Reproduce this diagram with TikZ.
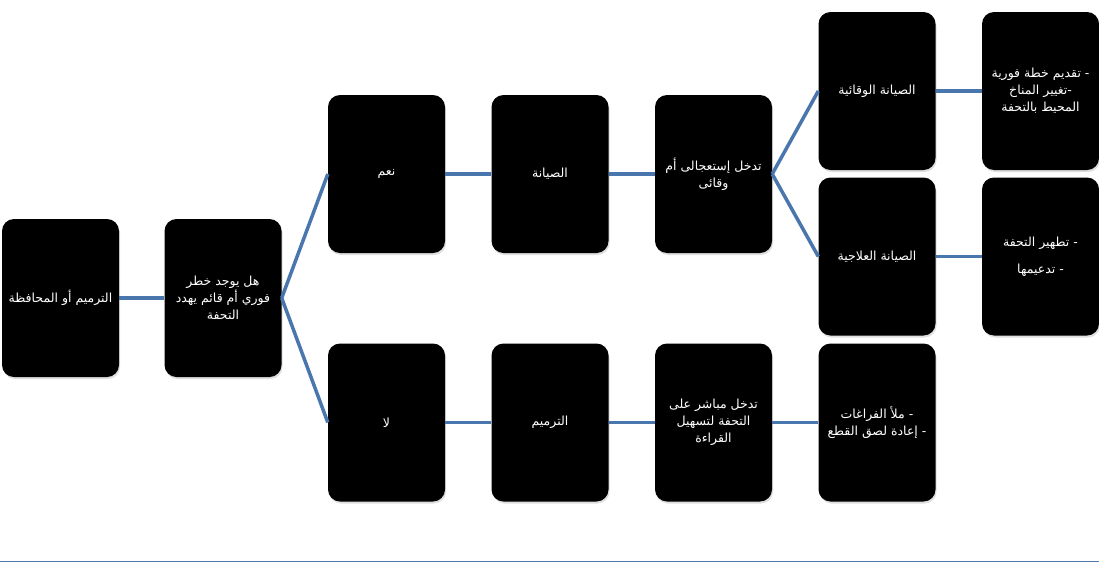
\documentclass[tikz,border=0pt]{standalone}
\usepackage{fontspec}
\newfontfamily\arabicfont[Script=Arabic]{DejaVu Sans}
\TeXXeTstate=1
\usetikzlibrary{shadows}
\definecolor{linkblue}{HTML}{4A76AE}
\definecolor{edgeline}{HTML}{4F78AC}
\newcommand\artxt[1]{\beginR #1\endR}
\tikzset{
  box/.style={fill=black, rounded corners=12pt, minimum width=117pt, minimum height=158pt,
    inner sep=0pt, text=white, align=center,
    font=\arabicfont\fontsize{12.5}{17}\selectfont,
    drop shadow={shadow xshift=1pt, shadow yshift=-2pt, opacity=0.25}},
  link/.style={draw=linkblue, line width=3.5pt},
}
\begin{document}
\begin{tikzpicture}[x=1pt, y=-1pt]
\useasboundingbox (0,0) rectangle (1099,562);
\node[box] (root) at (60.5,298) {\artxt{الترميم أو المحافظة}};
\node[box] (q) at (223,298) {\artxt{هل يوجد خطر}\\\artxt{فوري أم قائم يهدد}\\\artxt{التحفة}};
\node[box] (yes) at (386.5,174) {\artxt{نعم}};
\node[box] (siy) at (550,174) {\artxt{الصيانة}};
\node[box] (tad) at (713.5,174) {\artxt{تدخل إستعجالى أم}\\\artxt{وقائى}};
\node[box] (wiq) at (877,91) {\artxt{الصيانة الوقائية}};
\node[box] (plan) at (1040.5,91) {\artxt{- تقديم خطة فورية}\\\artxt{-تغيير المناخ}\\\artxt{المحيط بالتحفة}};
\node[box] (ilaj) at (877,256.5) {\artxt{الصيانة العلاجية}};
\node[box] (tath) at (1040.5,256.5) {\artxt{- تطهير التحفة}\\[10pt]\artxt{- تدعيمها}};
\node[box] (no) at (386.5,422.5) {\artxt{لا}};
\node[box] (tarm) at (550,422.5) {\artxt{الترميم}};
\node[box] (mub) at (713.5,422.5) {\artxt{تدخل مباشر على}\\\artxt{التحفة لتسهيل}\\\artxt{القراءة}};
\node[box] (mal) at (877,422.5) {\artxt{- ملأ الفراغات}\\\artxt{- إعادة لصق القطع}};
\draw[link] (root.east) -- (q.west);
\draw[link] (q.east) -- (yes.west);
\draw[link] (q.east) -- (no.west);
\draw[link] (yes.east) -- (siy.west);
\draw[link] (siy.east) -- (tad.west);
\draw[link] (tad.east) -- (wiq.west);
\draw[link] (tad.east) -- (ilaj.west);
\draw[link] (wiq.east) -- (plan.west);
\draw[link] (ilaj.east) -- (tath.west);
\draw[link] (no.east) -- (tarm.west);
\draw[link] (tarm.east) -- (mub.west);
\draw[link] (mub.east) -- (mal.west);
\draw[edgeline, line width=1.5pt] (0,561.5) -- (1099,561.5);
\end{tikzpicture}
\end{document}
